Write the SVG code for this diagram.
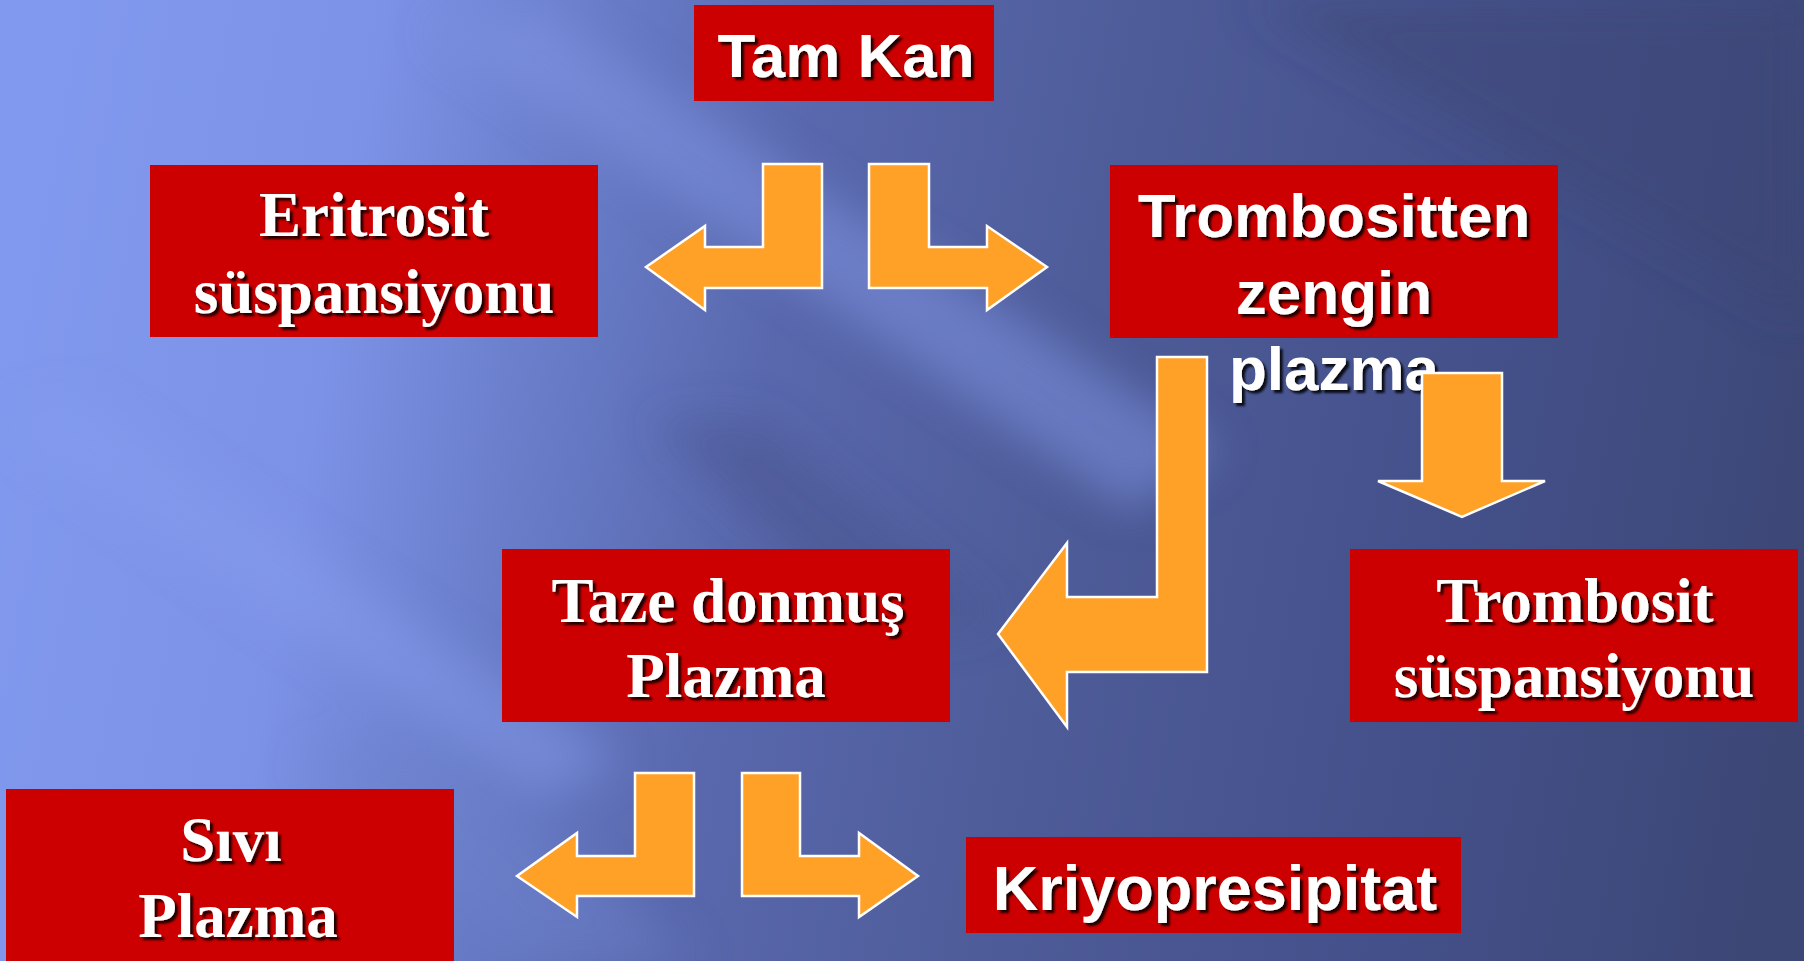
<svg xmlns="http://www.w3.org/2000/svg" width="1804" height="961" viewBox="0 0 1804 961">
<defs>
<linearGradient id="bg" gradientUnits="userSpaceOnUse" x1="0" y1="300" x2="1804" y2="620">
<stop offset="0" stop-color="#8199ee"/>
<stop offset="0.18" stop-color="#7c92e6"/>
<stop offset="0.3" stop-color="#687cc8"/>
<stop offset="0.42" stop-color="#5968ad"/>
<stop offset="0.6" stop-color="#4d5b98"/>
<stop offset="0.8" stop-color="#44508a"/>
<stop offset="1" stop-color="#3c4776"/>
</linearGradient>
<filter id="blur" x="-20%" y="-20%" width="140%" height="140%">
<feGaussianBlur stdDeviation="22"/>
</filter>
<filter id="shadow" x="-10%" y="-20%" width="120%" height="150%">
<feGaussianBlur in="SourceAlpha" stdDeviation="1.2" result="b"/>
<feOffset in="b" dx="3" dy="3" result="o"/>
<feComponentTransfer in="o" result="s"><feFuncA type="linear" slope="0.85"/></feComponentTransfer>
<feMerge><feMergeNode in="s"/><feMergeNode in="SourceGraphic"/></feMerge>
</filter>
</defs>
<style>
.box{fill:#cc0000}
.sans{font-family:"Liberation Sans",Arial,sans-serif;font-weight:bold;fill:#ffffff;text-anchor:middle;filter:url(#shadow)}
.serif{font-family:"Liberation Serif","Times New Roman",serif;font-weight:bold;fill:#ffffff;text-anchor:middle;filter:url(#shadow)}
.arrow{fill:#ffa127;stroke:#ffffff;stroke-width:2.5;stroke-linejoin:miter}
</style>
<rect x="0" y="0" width="1804" height="961" fill="url(#bg)"/>
<g filter="url(#blur)">
<polygon points="430,30 540,10 1220,450 1130,510" fill="#7d92e0" opacity="0.55"/>
<polygon points="0,420 80,400 620,760 540,800" fill="#889eee" opacity="0.45"/>
<polygon points="300,760 420,740 700,961 520,961" fill="#6e82cc" opacity="0.4"/>
<polygon points="650,420 760,420 1000,620 880,640" fill="#45528e" opacity="0.5"/>
<polygon points="1250,0 1804,0 1804,320" fill="#3c4676" opacity="0.5"/>
</g>

<g id="tam-kan">
<rect class="box" x="694" y="5" width="300" height="96"/>
<text class="sans" x="846" y="77" font-size="62">Tam Kan</text>
</g>
<g id="eritrosit">
<rect class="box" x="150" y="165" width="448" height="172"/>
<text class="serif" x="374" y="236" font-size="63">Eritrosit</text>
<text class="serif" x="374" y="313" font-size="63">süspansiyonu</text>
</g>
<g id="trombositten">
<rect class="box" x="1110" y="165" width="448" height="173"/>
<text class="sans" x="1334" y="237" font-size="62">Trombositten</text>
<text class="sans" x="1334" y="314" font-size="62">zengin</text>
<text class="sans" x="1334" y="390" font-size="62">plazma</text>
</g>
<g id="taze-donmus">
<rect class="box" x="502" y="549" width="448" height="173"/>
<text class="serif" x="728" y="622" font-size="63">Taze donmuş</text>
<text class="serif" x="726" y="697" font-size="63">Plazma</text>
</g>
<g id="trombosit">
<rect class="box" x="1350" y="549" width="448" height="173"/>
<text class="serif" x="1575" y="622" font-size="63">Trombosit</text>
<text class="serif" x="1574" y="697" font-size="63">süspansiyonu</text>
</g>
<g id="sivi-plazma">
<rect class="box" x="6" y="789" width="448" height="180"/>
<text class="serif" x="231" y="861" font-size="63">Sıvı</text>
<text class="serif" x="238" y="937" font-size="63">Plazma</text>
</g>
<g id="kriyo">
<rect class="box" x="966" y="837" width="495" height="96"/>
<text class="sans" x="1215" y="910" font-size="63">Kriyopresipitat</text>
</g>

<g id="connectors">
<polygon class="arrow" points="822,164 822,288 705,288 705,310 646,267 705,226 705,247 763,247 763,164"/>
<polygon class="arrow" points="869,164 929,164 929,247 987,247 987,226 1047,267 987,310 987,288 869,288"/>
<polygon class="arrow" points="1422,373 1502,373 1502,481 1545,481 1462,517 1378,481 1422,481"/>
<polygon class="arrow" points="1157,357 1207,357 1207,672 1067,672 1067,727 998,634 1067,543 1067,597 1157,597"/>
<polygon class="arrow" points="694,773 694,896 577,896 577,917 517,876 577,833 577,856 635,856 635,773"/>
<polygon class="arrow" points="742,773 800,773 800,856 859,856 859,833 918,876 859,917 859,896 742,896"/>
</g>
</svg>
